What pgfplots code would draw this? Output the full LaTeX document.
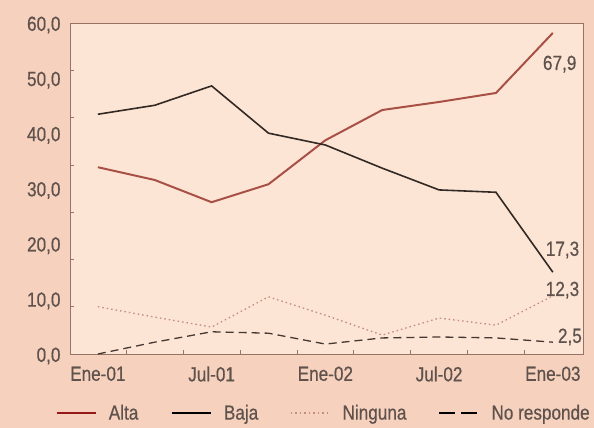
\documentclass[border=0pt]{standalone}
\usepackage{fontspec}
\setmainfont{Liberation Sans}[FakeStretch=0.84, FakeBold=0.5]
\usepackage{pgfplots}
\pgfplotsset{compat=1.18}
\definecolor{bgout}{RGB}{246,209,190}
\definecolor{bgin}{RGB}{252,229,213}
\definecolor{axcol}{RGB}{150,115,100}
\definecolor{txtcol}{RGB}{95,82,76}
\definecolor{alta}{RGB}{168,80,70}
\definecolor{altaleg}{RGB}{150,25,25}
\definecolor{baja}{RGB}{50,40,36}
\definecolor{ning}{RGB}{195,140,125}
\definecolor{nores}{RGB}{70,55,50}
\begin{document}
\begin{tikzpicture}
\fill[bgout] (-70bp,-74bp) rectangle (524bp,354bp);
\path[use as bounding box] (-70bp,-74bp) rectangle (524bp,354bp);
\begin{axis}[
  at={(0,0)}, anchor=south west,
  scale only axis, width=513bp, height=331bp,
  xmin=-0.49, xmax=8.53, ymin=0, ymax=70,
  axis background/.style={fill=bgin},
  axis line style={axcol, line width=0.8pt},
  tick pos=left,
  xtick={0,2,4,6,8},
  xticklabels={Ene-01,Jul-01,Ene-02,Jul-02,Ene-03},
  ytick={0,11.6667,23.3333,35,46.6667,58.3333,70},
  yticklabels={{0,0},{10,0},{20,0},{30,0},{40,0},{50,0},{60,0}},
  minor xtick={0.5,1.5,2.5,3.5,4.5,5.5,6.5,7.5},
  minor ytick={10,20,30,40,50,60},
  major tick length=0pt,
  minor tick length=4bp,
  tick style={axcol, line width=0.6pt},
  tick label style={font=\fontsize{20.5}{22}\selectfont, text=txtcol},
  yticklabel style={xshift=-6bp, yshift=-2bp},
  xticklabel style={yshift=-9bp},
  legend columns=4,
  legend cell align=left,
  legend style={at={(-0.035,-0.178)}, anchor=west, draw=none, fill=none,
    font=\fontsize{20.5}{22}\selectfont, text=txtcol,
    /tikz/every odd column/.append style={column sep=10bp},
    /tikz/every even column/.append style={column sep=30bp}},
  legend image code/.code={\draw[#1] (0bp,0bp) -- (39bp,0bp);},
  clip=false,
]
\addlegendimage{altaleg, line width=2.6pt}
\addlegendentry{Alta}
\addlegendimage{black, line width=2.6pt}
\addlegendentry{Baja}
\addlegendimage{ning, line width=1.3pt, dash pattern=on 1.5bp off 3bp}
\addlegendentry{Ninguna}
\addlegendimage{black, line width=2pt, dash pattern=on 16bp off 6bp}
\addlegendentry{No responde}
\addplot[alta, line width=2pt, forget plot] coordinates {
 (0,39.5) (1,36.8) (2,32.1) (3,35.9) (4,45.2) (5,51.6) (6,53.3) (7,55.2) (8,67.9)};
\addplot[baja, line width=1.6pt, forget plot] coordinates {
 (0,50.7) (1,52.6) (2,56.7) (3,46.7) (4,44.2) (5,39.3) (6,34.7) (7,34.2) (8,17.3)};
\addplot[ning, line width=1.3pt, dash pattern=on 1.5bp off 3bp, forget plot] coordinates {
 (0,10.0) (1,7.8) (2,5.7) (3,12.1) (4,8.2) (5,4.0) (6,7.6) (7,6.1) (8,12.3)};
\addplot[nores, line width=1.3pt, dash pattern=on 8bp off 5bp, forget plot] coordinates {
 (0,0.0) (1,2.5) (2,4.7) (3,4.4) (4,2.1) (5,3.4) (6,3.6) (7,3.4) (8,2.5)};
\node[text=txtcol, font=\fontsize{20.5}{22}\selectfont] at (axis cs:8.12,61.3) {67,9};
\node[text=txtcol, font=\fontsize{20.5}{22}\selectfont] at (axis cs:8.17,22.0) {17,3};
\node[text=txtcol, font=\fontsize{20.5}{22}\selectfont] at (axis cs:8.17,13.5) {12,3};
\node[text=txtcol, font=\fontsize{20.5}{22}\selectfont] at (axis cs:8.3,3.6) {2,5};
\end{axis}
\end{tikzpicture}
\end{document}
